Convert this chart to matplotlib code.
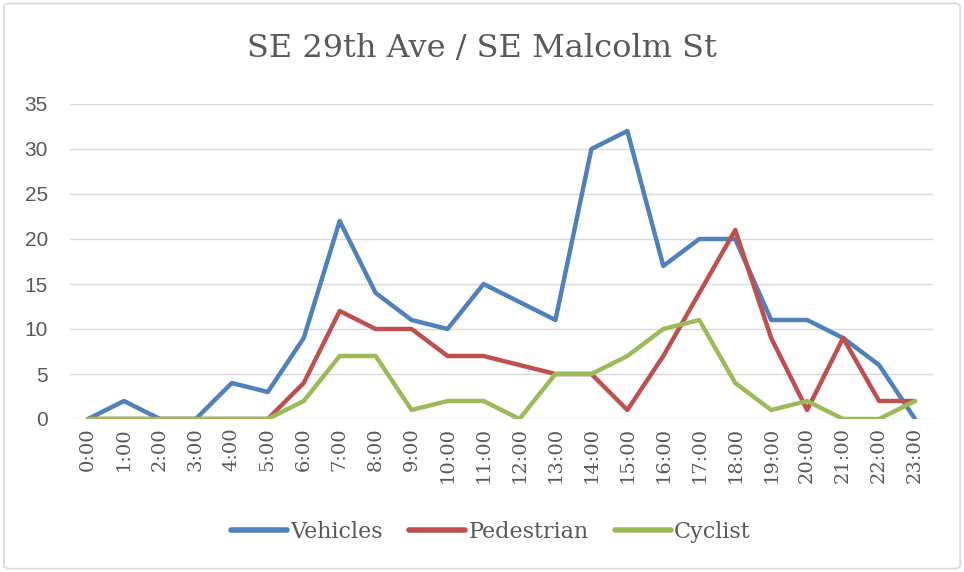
import matplotlib
matplotlib.use("Agg")
import matplotlib.pyplot as plt
from matplotlib.patches import FancyBboxPatch

hours = [f"{h}:00" for h in range(24)]
vehicles = [0, 2, 0, 0, 4, 3, 9, 22, 14, 11, 10, 15, 13, 11, 30, 32, 17, 20, 20, 11, 11, 9, 6, 0]
pedestrian = [0, 0, 0, 0, 0, 0, 4, 12, 10, 10, 7, 7, 6, 5, 5, 1, 7, 14, 21, 9, 1, 9, 2, 2]
cyclist = [0, 0, 0, 0, 0, 0, 2, 7, 7, 1, 2, 2, 0, 5, 5, 7, 10, 11, 4, 1, 2, 0, 0, 2]
yticks = [0, 5, 10, 15, 20, 25, 30, 35]

plt.rcParams['font.family'] = ['DejaVu Serif']
text_color = "#595959"

fig = plt.figure(figsize=(9.64, 5.72), dpi=100)
fig.patches.append(FancyBboxPatch((0.004, 0.006), 0.992, 0.988,
                                  boxstyle="round,pad=0,rounding_size=0.006",
                                  transform=fig.transFigure, fill=False,
                                  edgecolor="#d9d9d9", linewidth=1.2))

ax = fig.add_axes([70 / 964, 1 - 419 / 572, 863 / 964, 315 / 572])
x = list(range(len(hours)))
ax.plot(x, vehicles, color="#4F81BD", lw=3.2, label="Vehicles", solid_capstyle="round")
ax.plot(x, pedestrian, color="#C0504D", lw=3.2, label="Pedestrian", solid_capstyle="round")
ax.plot(x, cyclist, color="#9BBB59", lw=3.2, label="Cyclist", solid_capstyle="round")

ax.set_xlim(-0.5, 23.5)
ax.set_ylim(0, 35)
ax.set_yticks(yticks)
ax.set_yticklabels([str(v) for v in yticks], family=["Liberation Sans"], fontsize=15)
ax.set_xticks(x)
ax.set_xticklabels(hours, rotation=90, fontsize=14)
ax.grid(axis="y", color="#d9d9d9", lw=1)
ax.set_axisbelow(True)
for s in ax.spines.values():
    s.set_visible(False)
ax.tick_params(length=0, colors=text_color)
ax.tick_params(axis="x", pad=6)
ax.tick_params(axis="y", pad=16)

fig.text(0.5, 1 - 48 / 572, "SE 29th Ave / SE Malcolm St", ha="center", va="center",
         fontsize=23, color=text_color)

leg = fig.legend(loc="center", bbox_to_anchor=(491 / 964, 1 - 532 / 572), ncol=3,
                 frameon=False, fontsize=16, handlelength=2.5, handletextpad=0.15,
                 columnspacing=1.2)
for t in leg.get_texts():
    t.set_color(text_color)
for h in leg.get_lines():
    h.set_linewidth(4)

fig.savefig("out.png", dpi=100)
